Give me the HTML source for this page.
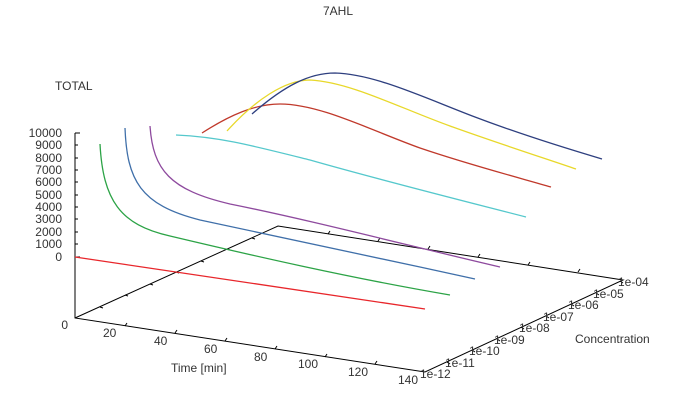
<!DOCTYPE html><html><head><style>body{margin:0;background:#fff}svg{display:block}text{font-family:"Liberation Sans",sans-serif;font-size:12px;fill:#333}</style></head><body>
<svg width="676" height="411" viewBox="0 0 676 411">
<text x="338" y="15" text-anchor="middle">7AHL</text>
<text x="55" y="90">TOTAL</text>
<g text-anchor="end">
<text x="62" y="137">10000</text><text x="62" y="149">9000</text><text x="62" y="162">8000</text><text x="62" y="174">7000</text><text x="62" y="186">6000</text><text x="62" y="199">5000</text><text x="62" y="211">4000</text><text x="62" y="223">3000</text><text x="62" y="236">2000</text><text x="62" y="248">1000</text><text x="62" y="261">0</text><text x="68" y="329">0</text>
</g>
<g stroke="#000" fill="none" stroke-width="1">
<path d="M75,133V318L425,372L623,280L278,226L75,318"/>
<path d="M75,133h5M75,145h3M75,158h3M75,170h3M75,182h3M75,195h3M75,207h3M75,219h3M75,232h3M75,244h3M75,257h5"/>
<path d="M125,326l2,-3M175,333l2,-3M225,341l2,-3M275,349l2,-3M325,357l2,-3M375,364l2,-3M328,234l2,-3M378,241l2,-3M428,249l2,-3M478,257l2,-3M528,265l2,-3M578,272l2,-3"/>
<path d="M100,307l3,1M125,295l3,1M150,284l3,1M176,272l3,1M201,261l3,1M227,249l3,1M252,238l3,1"/>
<path d="M447,362l3,2M472,350l3,2M497,339l3,2M521,327l3,2M546,316l3,2M571,304l3,2M596,293l3,2M620,281l3,2"/>
</g>
<g>
<text x="103" y="337">20</text><text x="154" y="345">40</text><text x="204" y="353">60</text><text x="254" y="361">80</text><text x="298" y="368">100</text><text x="348" y="376">120</text><text x="398" y="384">140</text>
<text x="420" y="378">1e-12</text><text x="445" y="367">1e-11</text><text x="469" y="355">1e-10</text><text x="494" y="344">1e-09</text><text x="519" y="332">1e-08</text><text x="543" y="321">1e-07</text><text x="568" y="309">1e-06</text><text x="593" y="298">1e-05</text><text x="618" y="286">1e-04</text>
<text x="171" y="372">Time [min]</text><text x="575" y="343">Concentration</text>
</g>
<g fill="none" stroke-width="1.3">
<path stroke="#e8262b" d="M75,257L425,309"/>
<path stroke="#2ca346" d="M100,144C103,200 120,225 170,236C250,255 350,278 450,295"/>
<path stroke="#3f6fa9" d="M125,128C127,180 140,205 200,220C280,238 380,258 475,279"/>
<path stroke="#8e4a9e" d="M150,126C153,170 170,190 230,204C310,220 410,246 500,267"/>
<path stroke="#55c8cc" d="M176,135C220,137 250,145 310,160C380,180 460,200 526,217"/>
<path stroke="#c0392b" d="M202,133C230,115 255,104 280,104C320,104 370,130 420,148C470,165 520,178 551,187"/>
<path stroke="#e8d82a" d="M227,131C255,100 285,80 310,80C350,82 400,108 450,126C500,144 550,160 576,169"/>
<path stroke="#2e3f7f" d="M252,114C285,85 310,73 335,73C375,74 425,98 475,117C525,136 575,151 602,159"/>
</g>
</svg></body></html>
